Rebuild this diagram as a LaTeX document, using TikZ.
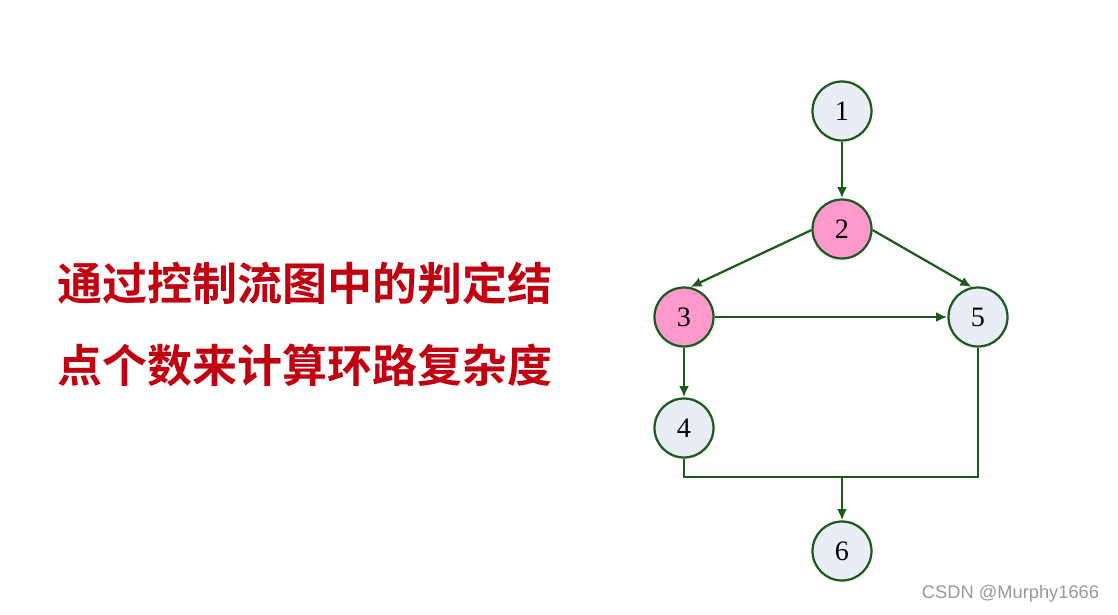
\documentclass[tikz,border=0pt]{standalone}
\usepackage{fontspec}
\setmainfont{Liberation Serif}
\newfontfamily\cjkbold[BoldFont={Noto Sans CJK SC Bold}]{Noto Sans CJK SC Bold}
\newfontfamily\markfont{Liberation Sans}
\usepackage{xcolor}
\usetikzlibrary{arrows.meta,positioning}
\definecolor{edgegreen}{HTML}{1E5A1E}
\definecolor{nodegray}{HTML}{E9EEF6}
\definecolor{nodepink}{HTML}{FF99CC}
\definecolor{textred}{HTML}{C00010}
\begin{document}
\begin{tikzpicture}[
  x=0.025cm,y=-0.025cm,
  vtx/.style={circle,draw=edgegreen,line width=1.6pt,minimum size=59*0.025cm,
              inner sep=0pt,font=\fontsize{20}{20}\selectfont,fill=nodegray},
  hot/.style={vtx,fill=nodepink},
  line/.style={draw=edgegreen,line width=1.6pt},
  arr/.style={line,-{Latex[length=8pt,width=7pt]}},
  note/.style={font=\cjkbold\fontsize{32}{32}\selectfont,text=textred,anchor=west}
]
\useasboundingbox (0,0) rectangle (1118,614);
% graph
\node[vtx] (n1) at (842,111) {1};
\node[hot] (n2) at (842,229) {2};
\node[hot] (n3) at (684,317) {3};
\node[vtx] (n5) at (978,317) {5};
\node[vtx] (n4) at (684,428) {4};
\node[vtx] (n6) at (842,551) {6};
\coordinate (join) at (n6 |- 0,477);
\draw[arr] (n1)--(n2);
\draw[arr] (n2.182)--(n3.78);
\draw[arr] (n2.-2)--(n5.102);
\draw[arr] (n3)--(n5);
\draw[arr] (n3)--(n4);
\draw[line] (n4.south)|-(join)-|(n5.south);
\draw[arr] (join)--(n6);
% text
\node[note] (l1) at (53,283) {通过控制流图中的判定结};
\node[note] (l2) at (53,365) {点个数来计算环路复杂度};
\node[font=\markfont\fontsize{13}{13}\selectfont,text=gray!80,anchor=east] (wm) at (1104,594) {CSDN @Murphy1666};
\end{tikzpicture}
\end{document}
